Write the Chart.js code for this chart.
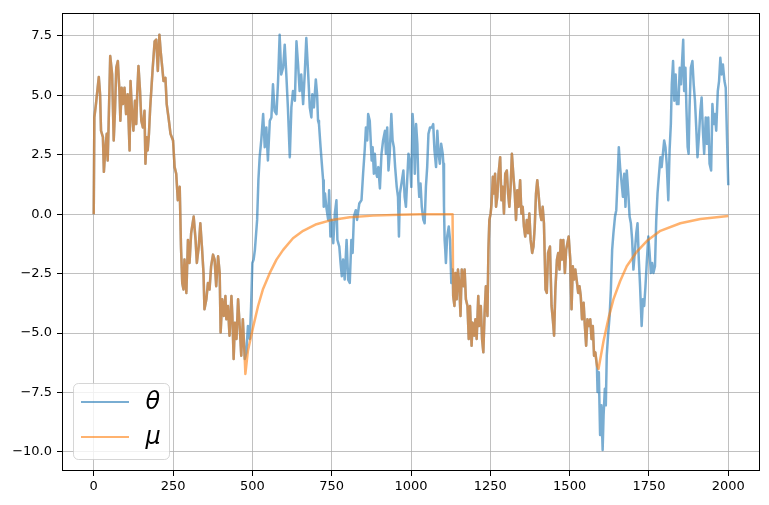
<!DOCTYPE html>
<html>
<head>
<meta charset="utf-8">
<script src="https://cdn.jsdelivr.net/npm/chart.js@4.4.1/dist/chart.umd.min.js"></script>
<style>
  html, body { margin: 0; padding: 0; background: #fff; }
</style>
</head>
<body>
<canvas id="chart" width="769" height="505"></canvas>
<script>
// ---- data (t = step, v = value) ----
// segment where theta and mu overlap (0 .. 476)
const sharedAT = [0,2,7,16,20,23,29,32,37,41,44,47,52,58,63,67,71,76,81,84,88,92,97,102,107,113,116,121,125,130,134,137,141,146,150,155,160,163,167,170,174,178,182,186,192,197,202,207,211,216,220,226,230,237,242,250,255,260,265,271,275,279,283,286,292,297,302,307,315,321,325,331,336,341,346,349,355,360,365,370,376,381,386,392,397,400,405,410,415,418,423,428,434,437,441,445,450,455,460,465,470,476];
const sharedAV = [0,4.07,4.63,5.77,5.04,3.51,3.24,1.78,2.82,3.38,2.26,3.79,6.65,5.88,3.10,4.35,6.16,6.44,5.18,3.93,5.32,4.63,5.32,4.21,5.04,2.68,5.60,4.21,3.51,4.77,3.79,5.04,6.23,5.18,3.93,3.65,4.35,2.12,3.24,2.68,3.38,4.49,5.32,6.16,7.27,7.34,6.02,7.55,6.85,6.16,5.60,5.74,4.63,3.93,3.38,3.10,1.98,1.70,0.59,1.15,-1.36,-2.89,-3.17,-1.91,-3.31,-1.08,-2.05,-0.80,-0.10,-1.08,-2.05,-1.36,-0.38,-1.36,-2.47,-4.00,-3.58,-2.89,-3.17,-2.19,-1.70,-1.91,-3.03,-1.77,-2.47,-4.97,-3.58,-4.28,-3.44,-4.42,-3.86,-5.11,-3.44,-4.28,-6.09,-4.56,-5.25,-3.58,-4.70,-5.95,-4.42,-6.09];

// theta only (481 .. 1131)
const thetaBT = [481,486,492,496,500,504,508,515,519,523,528,534,539,544,549,555,560,565,570,576,581,586,591,597,602,607,612,618,623,628,634,639,644,649,654,660,665,670,676,681,686,689,694,700,704,707,710,715,719,723,725,729,733,739,742,746,750,755,760,765,768,774,778,782,786,791,797,802,807,812,816,820,826,830,837,844,849,854,858,862,865,870,876,879,883,886,889,893,897,902,907,912,918,921,925,929,933,938,942,946,950,955,959,962,965,970,976,980,984,988,992,997,1001,1005,1009,1012,1016,1020,1023,1026,1030,1034,1039,1043,1047,1051,1055,1060,1066,1070,1074,1079,1083,1087,1091,1095,1100,1102,1104,1106,1108,1110,1114,1119,1123,1127,1131];
const thetaBV = [-5.81,-4.70,-5.25,-3.86,-2.05,-1.91,-1.50,-0.24,1.43,2.40,3.10,4.21,2.82,3.65,2.26,3.93,4.07,5.46,4.35,4.21,5.60,7.55,5.88,6.16,7.13,5.88,4.49,2.40,4.49,5.18,4.77,7.27,6.30,5.18,5.88,4.63,5.88,7.41,5.88,4.49,4.07,5.04,4.49,5.67,5.04,3.93,3.79,2.82,2.12,1.43,0.31,0.87,0.31,-0.24,1.01,-0.94,-0.24,-1.22,0.03,0.59,-1.08,-1.36,-2.05,-2.61,-1.91,-2.75,-1.08,-2.75,-2.89,-1.08,-1.63,-0.10,0.17,-0.24,0.45,0.59,1.70,2.68,3.65,3.10,4.21,3.93,2.26,2.82,1.70,2.54,1.84,1.57,1.98,1.08,2.54,3.10,3.51,2.54,3.65,1.84,2.54,4.21,3.10,2.82,1.98,1.15,0.73,-0.94,0.87,1.29,1.84,0.73,0.31,1.43,2.54,2.12,1.15,4.21,3.38,1.70,3.79,2.96,1.43,0.73,1.29,0.31,-0.24,-0.38,1.15,1.98,3.38,3.65,3.65,3.79,2.68,1.98,3.51,2.54,2.12,2.96,2.54,2.12,0.31,-1.08,-1.50,-2.05,-0.94,-0.52,-1.08,-2.89,-2.33];

// second overlapping segment (1133 .. 1586)
const sharedCT = [1133,1137,1140,1144,1148,1152,1156,1160,1165,1169,1173,1178,1182,1186,1191,1194,1199,1203,1207,1212,1215,1220,1224,1228,1232,1236,1241,1244,1247,1251,1254,1258,1262,1265,1268,1272,1276,1281,1285,1289,1293,1297,1302,1306,1310,1314,1318,1323,1327,1331,1335,1339,1344,1348,1352,1356,1360,1365,1369,1373,1377,1382,1386,1390,1394,1398,1402,1407,1411,1415,1419,1424,1428,1432,1438,1443,1447,1451,1455,1460,1464,1468,1472,1476,1480,1485,1489,1493,1497,1502,1506,1510,1514,1518,1522,1527,1531,1535,1539,1544,1548,1552,1556,1560,1565,1569,1573,1577,1581,1586];
const sharedCV = [-3.44,-3.86,-2.47,-3.58,-2.33,-2.89,-4.28,-2.33,-3.03,-2.33,-3.58,-3.86,-5.25,-3.86,-5.53,-4.56,-5.11,-4.42,-5.25,-3.44,-4.70,-3.86,-5.25,-5.81,-4.14,-3.03,-4.28,-1.50,-0.24,0.03,0.45,1.57,0.87,1.70,0.31,0.73,1.70,2.40,0.59,1.15,0.03,1.70,1.84,0.87,0.31,1.15,2.54,1.57,0.87,-0.24,1.01,0.31,1.43,0.03,0.31,-0.52,-0.94,-0.24,-0.80,0.03,-1.08,-1.63,-1.36,-0.52,0.87,1.43,0.87,0.03,-0.24,0.31,-0.38,-3.17,-3.31,-1.63,-1.36,-3.86,-4.42,-5.11,-3.17,-1.91,-1.63,-2.33,-1.08,-1.91,-1.08,-2.47,-1.50,-1.22,-0.94,-1.91,-4.00,-2.19,-2.75,-2.33,-2.75,-3.31,-3.03,-3.44,-4.42,-3.72,-4.70,-5.53,-4.42,-4.70,-4.42,-5.25,-4.70,-5.95,-5.81,-6.37];

// theta only (1588 .. 2000)
const thetaDT = [1588,1592,1596,1600,1604,1607,1611,1614,1617,1621,1626,1630,1634,1638,1643,1647,1651,1655,1659,1664,1668,1672,1676,1680,1685,1689,1693,1697,1701,1706,1710,1714,1718,1722,1727,1731,1735,1739,1743,1748,1752,1756,1760,1764,1769,1773,1777,1781,1786,1790,1794,1798,1802,1806,1811,1815,1819,1822,1826,1830,1834,1838,1843,1847,1851,1855,1858,1861,1865,1868,1872,1875,1878,1882,1887,1891,1895,1899,1903,1908,1912,1916,1920,1924,1929,1933,1937,1941,1946,1950,1954,1958,1962,1967,1971,1975,1979,1983,1988,1992,1996,2000];
const thetaDV = [-7.48,-6.65,-9.29,-8.04,-9.92,-8.46,-7.34,-8.04,-5.95,-5.11,-4.28,-3.17,-1.50,-0.80,-0.10,0.17,1.43,2.82,1.98,1.29,0.73,1.70,0.31,1.84,0.87,-0.10,-0.38,-1.08,-2.33,-1.50,-0.80,-0.38,-1.91,-3.03,-4.70,-3.58,-3.86,-3.03,-2.05,-0.94,-1.63,-2.47,-2.05,-2.47,-2.19,-0.24,0.87,1.57,2.40,1.98,2.54,3.10,2.82,2.12,0.59,2.68,3.79,5.46,6.44,4.77,5.88,4.63,4.63,6.16,5.46,6.58,7.34,5.18,6.16,4.49,2.82,2.54,4.49,6.16,6.44,5.46,4.77,3.65,2.40,3.38,4.35,4.91,3.51,2.54,4.07,2.96,4.07,2.12,1.84,4.63,3.79,4.21,3.51,5.18,5.60,6.58,5.88,6.30,5.60,5.32,3.24,1.22];

// mu relaxing back towards 0
const muDecay1T = [478,486,502,518,533,555,576,597,628,660,702,751,807,881,965,1028,1131];
const muDecay1V = [-6.72,-5.74,-4.77,-3.86,-3.17,-2.47,-1.91,-1.50,-1.01,-0.70,-0.42,-0.24,-0.13,-0.06,-0.02,0,0];
const muDecay2T = [1591,1607,1623,1638,1659,1680,1712,1744,1786,1849,1912,2000];
const muDecay2V = [-6.51,-5.32,-4.35,-3.58,-2.82,-2.19,-1.57,-1.12,-0.70,-0.38,-0.20,-0.08];

const xTicks = [0,250,500,750,1000,1250,1500,1750,2000];
const yTicks = [-10,-7.5,-5,-2.5,0,2.5,5,7.5];

// ---- helpers ----
const pts = (ts, vs) => ts.map((t, i) => ({ x: t, y: vs[i] }));
const thetaData = [].concat(pts(sharedAT, sharedAV), pts(thetaBT, thetaBV), pts(sharedCT, sharedCV), pts(thetaDT, thetaDV));
const muData = [].concat(pts(sharedAT, sharedAV), pts(muDecay1T, muDecay1V), pts(sharedCT, sharedCV), pts(muDecay2T, muDecay2V));

const fmtY = v => (v < 0 ? "\u2212" : "") + Math.abs(v).toFixed(1);

// legend inside the axes (bottom left) + black frame round the plot
const frameAndLegend = {
  id: "frameAndLegend",
  afterDraw(chart) {
    const { ctx, chartArea: a } = chart;
    ctx.save();
    ctx.strokeStyle = "#000";
    ctx.lineWidth = 1;
    ctx.strokeRect(Math.round(a.left) + 0.5, Math.round(a.top) + 0.5, Math.round(a.width) - 1, Math.round(a.height) - 1);

    const w = 96, h = 76;
    const x = a.left + 11.5, y = a.bottom - 11.5 - h;
    ctx.beginPath();
    ctx.roundRect(x, y, w, h, 5);
    ctx.fillStyle = "rgba(255,255,255,0.8)";
    ctx.fill();
    ctx.strokeStyle = "rgba(204,204,204,0.8)";
    ctx.lineWidth = 1;
    ctx.stroke();

    chart.data.datasets.forEach((ds, i) => {
      const ly = y + 18.5 + i * 35;
      ctx.beginPath();
      ctx.moveTo(x + 7.5, ly);
      ctx.lineTo(x + 55.5, ly);
      ctx.strokeStyle = ds.borderColor;
      ctx.lineWidth = 2;
      ctx.stroke();
      ctx.fillStyle = "#000";
      ctx.font = 'italic 24px "DejaVu Sans"';
      ctx.textBaseline = "middle";
      ctx.fillText(ds.label, x + 72, ly + 1);
    });
    ctx.restore();
  }
};

const axisCommon = {
  type: "linear",
  bounds: "data",
  border: { display: false },
  grid: { color: "#b0b0b0", lineWidth: 0.8, tickLength: 5, tickColor: "#000", tickWidth: 1 },
};

Chart.defaults.font.family = '"DejaVu Sans", sans-serif';

new Chart(document.getElementById("chart"), {
  type: "line",
  data: {
    datasets: [
      // order: mu (1) is painted over theta (2), as in the reference
      { label: "\u03b8", data: thetaData, order: 2, borderColor: "rgba(31,119,180,0.6)", borderWidth: 2.5, pointRadius: 0, tension: 0, borderJoinStyle: "round" },
      { label: "\u03bc", data: muData, order: 1, borderColor: "rgba(255,127,14,0.6)", borderWidth: 2.5, pointRadius: 0, tension: 0, borderJoinStyle: "round" }
    ]
  },
  options: {
    responsive: false,
    animation: false,
    devicePixelRatio: 1,
    layout: { padding: { left: 0, right: 9, top: 10, bottom: 0 } },
    plugins: { legend: { display: false }, tooltip: { enabled: false } },
    scales: {
      x: {
        ...axisCommon,
        min: -100, max: 2100,
        afterBuildTicks: s => { s.ticks = xTicks.map(v => ({ value: v })); },
        afterFit: s => { s.height = 34; },
        ticks: { color: "#000", font: { size: 13 }, padding: 3, maxRotation: 0, autoSkip: false, callback: v => String(v) }
      },
      y: {
        ...axisCommon,
        min: -10.8, max: 8.47,
        afterBuildTicks: s => { s.ticks = yTicks.map(v => ({ value: v })); },
        afterFit: s => { s.width = 62; },
        ticks: { color: "#000", font: { size: 13 }, padding: 5, autoSkip: false, callback: fmtY }
      }
    }
  },
  plugins: [frameAndLegend]
});
</script>
</body>
</html>
